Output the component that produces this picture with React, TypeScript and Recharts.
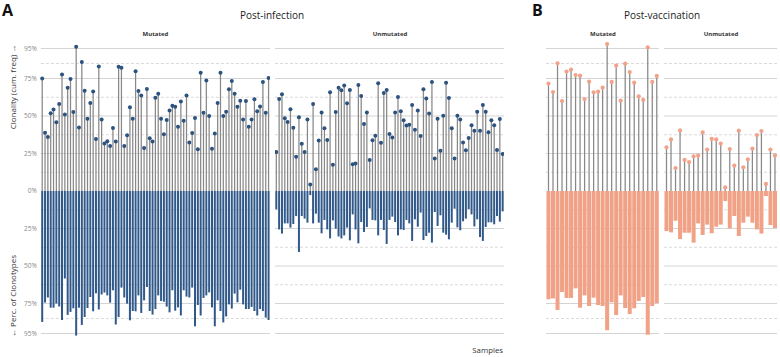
import { ComposedChart, Bar, XAxis, YAxis, CartesianGrid } from 'recharts';

// clonality (cum. freq, %) goes up, perc. of clonotypes (%) goes down
const infectionMutatedClonality = [
  75, 38.9, 36, 51.8, 54.4, 45.8, 58, 77.6, 51, 68.9,
  74.7, 52.7, 96.2, 42.4, 86, 66.9, 48.2, 58.7, 66.4, 34.7,
  83, 47.6, 31.6, 33.1, 30, 42, 33, 82.9, 82.2, 30,
  37.1, 55.8, 48.2, 79.8, 66.7, 63.6, 28.7, 68, 35.1, 33,
  62.2, 64.9, 48.2, 37.8, 47.3, 53.6, 56.9, 56.2, 42.9, 59.6,
  46.9, 63.6, 32.4, 38.7, 48.7, 27.8, 78.9, 52.2, 73.6, 50,
  28.2, 38.4, 58.7, 78.9, 50, 52.9, 67.8, 73.3, 64.9, 56.2,
  60.2, 47.6, 60, 42.9, 47.6, 61.1, 53.1, 56.4, 72.7, 52.2,
  75.3,
];
const infectionMutatedClonotypes = [
  87.3, 74.4, 71, 77.8, 77.8, 75, 77, 86, 58.4, 82.6,
  80.6, 78.2, 96.4, 77.8, 89.3, 84, 78, 70.7, 80.2, 68.2,
  79, 69, 67.7, 69.6, 74.4, 66.2, 89, 84, 64.4, 71,
  75.1, 86.2, 80, 80.2, 69.6, 81.3, 72.9, 64, 80, 82.4,
  78.7, 69.6, 73.3, 73.8, 77.1, 80.9, 66.2, 79.8, 77.6, 83,
  66.2, 70.4, 71, 64.4, 90.2, 76, 83, 71.3, 69.6, 67.6,
  77.6, 90.2, 72.9, 80, 87.6, 83.6, 75.6, 78.4, 68.4, 74.2,
  65.8, 75.6, 78.7, 78.7, 77.3, 80, 83, 78.7, 80, 84.4,
  86,
];
const infectionUnmutatedClonality = [
  26, 61.3, 64.5, 48.5, 46, 54.5, 42.2, 22.9, 49.2, 31.5,
  26, 47.7, 4.4, 58, 14.5, 33.6, 52.3, 41.8, 34, 65.9,
  17.5, 52.6, 68.8, 67.2, 70.4, 58.5, 67.3, 17.8, 18.4, 70.7,
  63.3, 44.7, 52.4, 20.7, 33.8, 36.9, 71.8, 32.2, 65.3, 67.3,
  38, 35.6, 52.4, 62.7, 53.1, 47.1, 43.6, 44.2, 57.3, 40.9,
  53.6, 36.7, 67.8, 61.6, 51.6, 72.7, 21.6, 48.2, 26.9, 50.2,
  72.2, 62, 41.8, 21.6, 50.2, 47.6, 32.4, 27.1, 35.3, 43.8,
  40.2, 52.9, 40.2, 57.3, 52.9, 39.1, 47.1, 43.8, 27.3, 48,
  24.7,
];
const infectionUnmutatedClonotypes = [
  12.2, 25.6, 28.4, 21.6, 21.6, 24.4, 22, 16.7, 40.7, 16.7,
  18.4, 21.1, 2.7, 21.6, 15.1, 21.1, 28.2, 19.3, 25.6, 31.6,
  19.6, 25.1, 30.4, 31.6, 29.6, 24.4, 32.9, 15.6, 25.6, 34.9,
  20.7, 27.3, 24, 11.6, 19.3, 19.6, 29.6, 19.3, 26, 35.3,
  19.3, 17.1, 20.7, 29.6, 25.6, 26, 19.3, 21.6, 33.3, 18.9,
  23.8, 14.4, 32.7, 30, 27.8, 34.4, 14, 23.3, 16.2, 27.8,
  29.1, 32.2, 21.1, 11.8, 24.2, 26.2, 20.2, 18.4, 12.2, 15.6,
  23.6, 18.9, 30.7, 33.3, 24, 20.9, 20.9, 22.2, 16.7, 20.4,
  13.6,
];
const vaccinationMutatedClonality = [
  71.6, 66, 85.1, 60, 79.6, 80.9, 77.3, 76.9, 61.3, 72.9,
  65.8, 66.2, 68.9, 98, 72.7, 83.6, 60.2, 84.9, 79.3, 72.2,
  63.1, 60.7, 95.8, 72.7, 76.7,
];
const vaccinationMutatedClonotypes = [
  72.2, 71.6, 79.3, 67.3, 71.3, 71.3, 64.9, 77.8, 69.6, 76.7,
  71.1, 76, 76.7, 92.9, 74.2, 82.7, 69.6, 78, 82, 78.2,
  73.3, 70.7, 95.8, 76.7, 74.7,
];
const vaccinationUnmutatedClonality = [
  29.1, 34.4, 15.3, 40.4, 20.7, 19.3, 23.1, 23.6, 39.1, 27.6,
  34.7, 34.4, 31.6, 2.4, 28, 16.9, 40.2, 15.8, 21.1, 28.2,
  37.3, 40, 4.7, 27.6, 23.6,
];
const vaccinationUnmutatedClonotypes = [
  26.7, 27.6, 19.8, 32, 27.8, 27.8, 34.4, 21.6, 29.3, 22.4,
  28.2, 23.8, 22.4, 6.7, 24.9, 16.7, 30, 21.1, 17.1, 21.1,
  25.6, 28.4, 3.3, 22.7, 24.7,
];

const yTicks = [-95, -75, -50, -25, 0, 25, 50, 75, 95];
const solidGrid = [-95, -75, -50, -25, 25, 50, 75, 95];
const dashedGrid = [-85, -62.5, -37.5, -12.5, 12.5, 37.5, 62.5, 85];

const FONT = '"Open Sans", "Noto Sans", sans-serif';

function buildRows(prefix: string, clonality: number[], clonotypes: number[]) {
  return clonality.map((c, i) => ({
    sample: `${prefix}${i + 1}`,
    clonality: c,
    clonotypes: -clonotypes[i],
  }));
}

function Lollipop(props: any) {
  const { x, y, width, height, dotColor, dotR } = props;
  if (x == null || y == null || !height) return null;
  const cx = x + width / 2;
  return (
    <g>
      <line x1={cx} x2={cx} y1={y} y2={y + height} stroke="#888" strokeWidth={1.25} />
      <circle cx={cx} cy={y} r={dotR} fill={dotColor} />
    </g>
  );
}

type PanelProps = {
  left: number;
  plotWidth: number;
  axisWidth: number;
  rows: ReturnType<typeof buildRows>;
  barColor: string;
  dotColor: string;
  dotR: number;
};

function Panel({ left, plotWidth, axisWidth, rows, barColor, dotColor, dotR }: PanelProps) {
  return (
    <div style={{ position: 'absolute', left: left - axisWidth, top: 41 }}>
      <ComposedChart
        width={axisWidth + plotWidth}
        height={300}
        data={rows}
        stackOffset="sign"
        barCategoryGap="11%"
        margin={{ top: 0, right: 0, bottom: 0, left: 0 }}
      >
        <CartesianGrid vertical={false} horizontalValues={solidGrid} stroke="#d4d4d4" />
        <CartesianGrid vertical={false} horizontalValues={dashedGrid} stroke="#dadada" strokeDasharray="3 2" />
        <XAxis dataKey="sample" hide />
        <YAxis
          type="number"
          domain={[-100, 100]}
          hide={axisWidth === 0}
          width={axisWidth}
          ticks={yTicks}
          interval={0}
          tickFormatter={(v: number) => `${Math.abs(v)}%`}
          axisLine={false}
          tickLine={false}
          tickSize={0}
          tickMargin={4}
          tick={{ fontSize: 6.5, fill: '#888', fontFamily: FONT }}
        />
        <Bar dataKey="clonotypes" stackId="s" fill={barColor} isAnimationActive={false} />
        <Bar
          dataKey="clonality"
          stackId="s"
          isAnimationActive={false}
          shape={(p: any) => <Lollipop {...p} dotColor={dotColor} dotR={dotR} />}
        />
      </ComposedChart>
    </div>
  );
}

export default function App() {
  const blue = '#30598a';
  const blueDot = '#2c5380';
  const salmon = '#f0a186';
  const salmonDot = '#f2a288';

  return (
    <div style={{ position: 'absolute', left: 0, top: 0, width: 780, height: 357, background: '#fff', fontFamily: FONT }}>
      <Panel left={40.9} plotWidth={229.2} axisWidth={40.9}
        rows={buildRows('IM', infectionMutatedClonality, infectionMutatedClonotypes)}
        barColor={blue} dotColor={blueDot} dotR={2} />
      <Panel left={275.3} plotWidth={229.2} axisWidth={0}
        rows={buildRows('IU', infectionUnmutatedClonality, infectionUnmutatedClonotypes)}
        barColor={blue} dotColor={blueDot} dotR={2} />
      <Panel left={546.4} plotWidth={112.8} axisWidth={0}
        rows={buildRows('VM', vaccinationMutatedClonality, vaccinationMutatedClonotypes)}
        barColor={salmon} dotColor={salmonDot} dotR={2.1} />
      <Panel left={664.4} plotWidth={113} axisWidth={0}
        rows={buildRows('VU', vaccinationUnmutatedClonality, vaccinationUnmutatedClonotypes)}
        barColor={salmon} dotColor={salmonDot} dotR={2.1} />

      <svg width={780} height={357} style={{ position: 'absolute', left: 0, top: 0, pointerEvents: 'none' }}>
        <g fontFamily={FONT}>
          <text x={2} y={16} fontSize={16} fontWeight="bold" fill="#111">A</text>
          <text x={532} y={15.5} fontSize={16} fontWeight="bold" fill="#111">B</text>
          <text x={272} y={19} fontSize={10} textAnchor="middle" fill="#222">Post-infection</text>
          <text x={662} y={19} fontSize={10} textAnchor="middle" fill="#222">Post-vaccination</text>
          <text x={155.5} y={35.5} fontSize={6} fontWeight="bold" textAnchor="middle" fill="#333">Mutated</text>
          <text x={390} y={35.5} fontSize={6} fontWeight="bold" textAnchor="middle" fill="#333">Unmutated</text>
          <text x={603} y={35.5} fontSize={6} fontWeight="bold" textAnchor="middle" fill="#333">Mutated</text>
          <text x={721} y={35.5} fontSize={6} fontWeight="bold" textAnchor="middle" fill="#333">Unmutated</text>
          <text x={503} y={353} fontSize={7.8} textAnchor="end" fill="#333">Samples</text>
          <text transform="translate(16,87) rotate(-90)" fontSize={8} textAnchor="middle" fill="#333">Clonality (cum. freq) →</text>
          <text transform="translate(15.5,296) rotate(-90)" fontSize={8} textAnchor="middle" fill="#333">← Perc. of Clonotypes</text>
        </g>
      </svg>
    </div>
  );
}
